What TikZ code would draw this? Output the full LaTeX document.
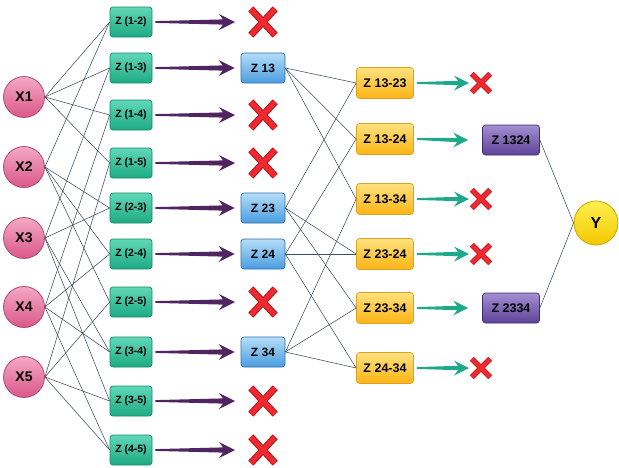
\documentclass[tikz,border=0pt]{standalone}
\usepackage{fontspec}
\setmainfont{Liberation Sans}
\usetikzlibrary{calc}
\definecolor{xtop}{HTML}{F4A9C4}
\definecolor{xbot}{HTML}{D9578A}
\definecolor{xbrd}{HTML}{B24A74}
\definecolor{gtop}{HTML}{5FD8B8}
\definecolor{gbot}{HTML}{1EAA84}
\definecolor{gbrd}{HTML}{148A69}
\definecolor{btop}{HTML}{B5DDF8}
\definecolor{bbot}{HTML}{4A9DDF}
\definecolor{bbrd}{HTML}{2E6FAE}
\definecolor{ytop}{HTML}{FFE27E}
\definecolor{ybot}{HTML}{FDB414}
\definecolor{ybrd}{HTML}{DDA024}
\definecolor{ptop}{HTML}{A38ED2}
\definecolor{pbot}{HTML}{5E4398}
\definecolor{pbrd}{HTML}{3E2C70}
\definecolor{outtop}{HTML}{FFEF50}
\definecolor{outbot}{HTML}{F2C800}
\definecolor{outbrd}{HTML}{C9A600}
\definecolor{arrp}{HTML}{4F2460}
\definecolor{arrt}{HTML}{1FA98A}
\definecolor{crossred}{HTML}{EE2A30}
\definecolor{crossdk}{HTML}{B3141C}
\definecolor{conncol}{HTML}{3B4E5C}
\begin{document}
\begin{tikzpicture}[x=1pt,y=-1pt,
  xnode/.style={circle,draw=xbrd,line width=0.8pt,top color=xtop,bottom color=xbot,minimum size=41pt,inner sep=0pt,font=\bfseries\fontsize{14}{14}\selectfont},
  gbox/.style={rectangle,rounded corners=3pt,draw=gbrd,line width=0.7pt,top color=gtop,bottom color=gbot,minimum width=42pt,minimum height=30pt,inner sep=0pt,font=\bfseries\fontsize{10.5}{10.5}\selectfont},
  bbox/.style={rectangle,rounded corners=3pt,draw=bbrd,line width=0.7pt,top color=btop,bottom color=bbot,minimum width=44pt,minimum height=30pt,inner sep=0pt,font=\bfseries\fontsize{12}{12}\selectfont},
  ybox/.style={rectangle,rounded corners=3pt,draw=ybrd,line width=0.7pt,top color=ytop,bottom color=ybot,minimum width=57pt,minimum height=31pt,inner sep=0pt,font=\bfseries\fontsize{12.5}{12.5}\selectfont},
  pbox/.style={rectangle,rounded corners=3pt,draw=pbrd,line width=0.7pt,top color=ptop,bottom color=pbot,minimum width=57pt,minimum height=30pt,inner sep=0pt,font=\bfseries\fontsize{12.5}{12.5}\selectfont},
  outnode/.style={circle,draw=outbrd,line width=0.8pt,top color=outtop,bottom color=outbot,minimum size=44pt,inner sep=0pt,font=\bfseries\fontsize{16}{16}\selectfont},
  bigx/.style={minimum width=24pt,minimum height=26pt,inner sep=0pt},
  smallx/.style={minimum width=18pt,minimum height=18pt,inner sep=0pt},
  crossa/.style={draw=crossdk,line width=#1},
  crossb/.style={draw=crossred,line width=#1},
  conn/.style={draw=conncol,line width=0.55pt},
  ptaper/.style={fill=arrp,to path={let \p1=(\tikztostart),\p2=(\tikztotarget) in
     (\x1,\y1+0.9pt) -- (\x2-12pt,\y2+2.6pt) -- (\x2-16pt,\y2+8pt) -- (\x2,\y2)
     -- (\x2-16pt,\y2-8pt) -- (\x2-12pt,\y2-2.6pt) -- (\x1,\y1-0.9pt) -- cycle}},
  ttaper/.style={fill=arrt,to path={let \p1=(\tikztostart),\p2=(\tikztotarget) in
     (\x1,\y1+0.9pt) -- (\x2-11pt,\y2+2.2pt) -- (\x2-15pt,\y2+7.5pt) -- (\x2,\y2)
     -- (\x2-15pt,\y2-7.5pt) -- (\x2-11pt,\y2-2.2pt) -- (\x1,\y1-0.9pt) -- cycle}}
]
\useasboundingbox (0,0) rectangle (619,467);

% input nodes
\foreach \i/\yy in {1/97,2/167,3/238,4/307,5/377}
  \node[xnode] (x\i) at (24,\yy) {X\i};

% pair nodes
\foreach \a/\b/\yy in {1/2/22,1/3/68,1/4/115,1/5/163,2/3/208,2/4/254,2/5/302,3/4/352,3/5/401,4/5/450}{
  \node[gbox] (g\a\b) at (131,\yy) {Z (\a-\b)};
  \draw[conn] (x\a.east) -- (g\a\b.west);
  \draw[conn] (x\b.east) -- (g\a\b.west);
}

% selected second layer
\foreach \n/\yy in {13/68,23/208,24/254,34/352}{
  \node[bbox] (b\n) at (263,\yy) {Z \n};
  \path[ptaper] ([xshift=3pt]g\n.east) to ([xshift=-6pt]b\n.west);
}

% rejected second layer
\foreach \n/\yy in {12/22,14/115,15/163,25/302,35/401,45/450}{
  \node[bigx] (c\n) at (263,\yy) {};
  \path[ptaper] ([xshift=3pt]g\n.east) to ([xshift=-28pt]c\n.center);
  \draw[crossa=7pt] (c\n.north west) -- (c\n.south east) (c\n.north east) -- (c\n.south west);
  \draw[crossb=5pt] (c\n.north west) -- (c\n.south east) (c\n.north east) -- (c\n.south west);
}

% third layer
\foreach \a/\b/\yy in {13/23/83,13/24/139,13/34/199,23/24/254,23/34/308,24/34/368}{
  \node[ybox] (y\a\b) at (385,\yy) {Z \a-\b};
  \draw[conn] (b\a.east) -- (y\a\b.west);
  \draw[conn] (b\b.east) -- (y\a\b.west);
}

% rejected third layer
\foreach \n/\yy in {1323/83,1334/199,2324/254,2434/368}{
  \node[smallx] (s\n) at (481,\yy) {};
  \path[ttaper] ([xshift=3pt]y\n.east) to ([xshift=-12pt]s\n.center);
  \draw[crossa=5.5pt] (s\n.north west) -- (s\n.south east) (s\n.north east) -- (s\n.south west);
  \draw[crossb=4pt] (s\n.north west) -- (s\n.south east) (s\n.north east) -- (s\n.south west);
}

% selected third layer
\node[pbox] (p1324) at (511,140) {Z 1324};
\node[pbox] (p2334) at (511,308) {Z 2334};
\path[ttaper] ([xshift=3pt]y1324.east) to ([xshift=-14pt]p1324.west);
\path[ttaper] ([xshift=3pt]y2334.east) to ([xshift=-14pt]p2334.west);

% output
\node[outnode] (yout) at (596,223) {Y};
\draw[conn] (p1324.east) -- (yout.west);
\draw[conn] (p2334.east) -- (yout.west);
\end{tikzpicture}
\end{document}
